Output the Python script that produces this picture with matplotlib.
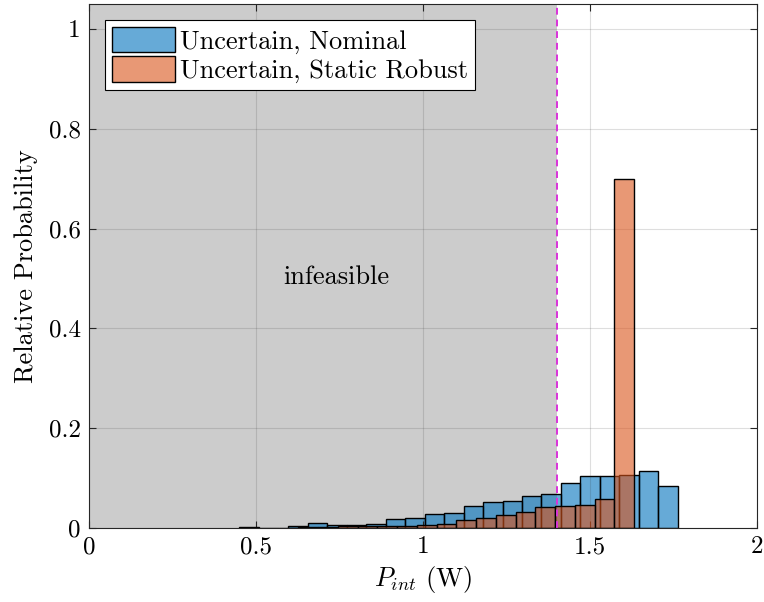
import numpy as np
import matplotlib
matplotlib.use('Agg')
import matplotlib.pyplot as plt
from matplotlib.ticker import FuncFormatter

plt.rcParams['font.family'] = 'serif'
plt.rcParams['font.serif'] = ['cmr10']
plt.rcParams['mathtext.fontset'] = 'cm'
plt.rcParams['axes.formatter.use_mathtext'] = True

# histogram bins (left edge of first bin, bin width) and relative probabilities
nominal_start = 0.5959
nominal_width = 0.05838
nominal_prob = [0.005, 0.011, 0.006, 0.006, 0.009, 0.0187, 0.020, 0.028, 0.031, 0.045,
                0.0515, 0.0547, 0.064, 0.0675, 0.090, 0.104, 0.105, 0.106, 0.115, 0.084]

robust_start = 0.4493
robust_width = 0.05913
robust_prob = [0.002, 0.0005, 0.0005, 0.002, 0.003, 0.005, 0.004, 0.005, 0.0035, 0.007,
               0.0087, 0.017, 0.020, 0.0254, 0.0314, 0.042, 0.0434, 0.0454, 0.058, 0.700]

p_limit = 1.4
x_ticks = [0, 0.5, 1, 1.5, 2]
y_ticks = [0, 0.2, 0.4, 0.6, 0.8, 1]

blue = (0.0, 0.447, 0.741)
orange = (0.85, 0.325, 0.098)

fig = plt.figure(figsize=(7.64, 6.02), dpi=100)
ax = fig.add_axes([0.1165, 0.1229, 0.8743, 0.8705])

# infeasible region
ax.axvspan(0, p_limit, color=(0.8, 0.8, 0.8), zorder=0.5, lw=0)
ax.axvline(p_limit, color=(0.85, 0.2, 0.85), ls=(0, (3.5, 2.5)), lw=1.4, zorder=6.5)

nom_left = nominal_start + nominal_width * np.arange(len(nominal_prob))
rob_left = robust_start + robust_width * np.arange(len(robust_prob))

ax.bar(nom_left, nominal_prob, width=nominal_width, align='edge',
       facecolor=blue + (0.6,), edgecolor='black', lw=1, zorder=2,
       label='Uncertain, Nominal')
ax.bar(rob_left, robust_prob, width=robust_width, align='edge',
       facecolor=orange + (0.6,), edgecolor='black', lw=1, zorder=3,
       label='Uncertain, Static Robust')

ax.text(0.74, 0.503, 'infeasible', ha='center', va='center', fontsize=19, zorder=5)

ax.set_xlim(0, 2)
ax.set_ylim(0, 1.05)
ax.set_xticks(x_ticks)
ax.set_yticks(y_ticks)
fmt = FuncFormatter(lambda v, p: '%g' % v)
ax.xaxis.set_major_formatter(fmt)
ax.yaxis.set_major_formatter(fmt)
ax.tick_params(direction='in', top=True, right=True, labelsize=18, length=5,
               color=(0.15, 0.15, 0.15), pad=6)
ax.grid(True, color=(0.15, 0.15, 0.15), alpha=0.15, lw=0.8, zorder=6)
ax.set_axisbelow(False)
for s in ax.spines.values():
    s.set_color((0.15, 0.15, 0.15))
    s.set_linewidth(0.8)
    s.set_zorder(7)

ax.set_xlabel('$P_{int}$ (W)', fontsize=19, labelpad=4)
ax.set_ylabel('Relative Probability', fontsize=19, labelpad=8)

leg = ax.legend(loc='upper left', bbox_to_anchor=(0.024, 0.969), borderaxespad=0,
                fontsize=19, fancybox=False, framealpha=1, edgecolor='black',
                handlelength=2.4, handleheight=1.1, handletextpad=0.2,
                labelspacing=0.1, borderpad=0.25)
leg.get_frame().set_linewidth(0.8)
leg.set_zorder(8)

fig.savefig('out.png', dpi=100)
